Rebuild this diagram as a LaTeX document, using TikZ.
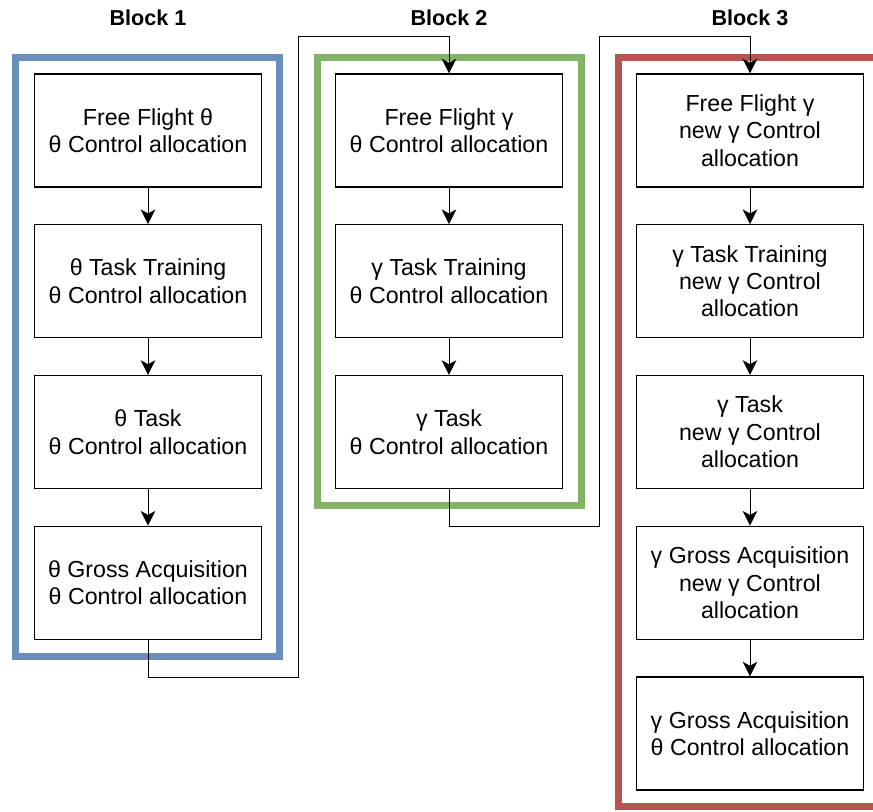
\documentclass[tikz,border=0pt]{standalone}
\usepackage{fontspec}
\setmainfont{Liberation Sans}
\usetikzlibrary{arrows.meta}
\definecolor{blockblue}{HTML}{6C8EBF}
\definecolor{blockgreen}{HTML}{82B366}
\definecolor{blockred}{HTML}{B85450}
\begin{document}
\begin{tikzpicture}[x=0.75pt, y=-0.75pt,
    phase/.style={rectangle, draw, line width=0.9pt, minimum width=170.25pt, minimum height=84.75pt, align=center, inner sep=2pt, font=\fontsize{17.4}{20.6}\selectfont},
    frame/.style={line width=5.25pt},
    title/.style={font=\bfseries\fontsize{16.2}{19}\selectfont},
    link/.style={line width=0.75pt, -{Stealth[length=11pt, width=11pt, inset=3pt]}}]
  \useasboundingbox (0,0) rectangle (873,811);

  % frames round the blocks
  \draw[frame, blockblue] (15.5,57) rectangle (279.5,656);
  \draw[frame, blockgreen] (317,57) rectangle (581,505);
  \draw[frame, blockred] (618,57) rectangle (900,806);
  \node[title] (t1) at (148,18) {Block 1};
  \node[title] (t2) at (449,18) {Block 2};
  \node[title] (t3) at (750,18) {Block 3};

  % block 1
  \node[phase] (a1) at (148,130.5) {Free Flight θ\\θ Control allocation};
  \node[phase] (a2) at (148,281.2) {θ Task Training\\θ Control allocation};
  \node[phase] (a3) at (148,432) {θ Task\\θ Control allocation};
  \node[phase] (a4) at (148,582.7) {θ Gross Acquisition\\θ Control allocation};

  % block 2
  \node[phase] (b1) at (449,130.5) {Free Flight γ\\θ Control allocation};
  \node[phase] (b2) at (449,281.2) {γ Task Training\\θ Control allocation};
  \node[phase] (b3) at (449,432) {γ Task\\θ Control allocation};

  % block 3
  \node[phase] (c1) at (750,130.5) {Free Flight γ\\new γ Control\\allocation};
  \node[phase] (c2) at (750,281.2) {γ Task Training\\new γ Control\\allocation};
  \node[phase] (c3) at (750,432) {γ Task\\new γ Control\\allocation};
  \node[phase] (c4) at (750,582.7) {γ Gross Acquisition\\new γ Control\\allocation};
  \node[phase] (c5) at (750,733.5) {γ Gross Acquisition\\θ Control allocation};

  \foreach \source/\dest in {a1/a2, a2/a3, a3/a4, b1/b2, b2/b3, c1/c2, c2/c3, c3/c4, c4/c5}
    \draw[link] (\source) -- (\dest);

  % from one block to the next
  \coordinate (low1) at (298,677);
  \coordinate (high1) at (298,36);
  \coordinate (low2) at (599,526);
  \coordinate (high2) at (599,36);
  \draw[link] (a4.south) |- (low1) -- (high1) -| (b1.north);
  \draw[link] (b3.south) |- (low2) -- (high2) -| (c1.north);
\end{tikzpicture}
\end{document}
